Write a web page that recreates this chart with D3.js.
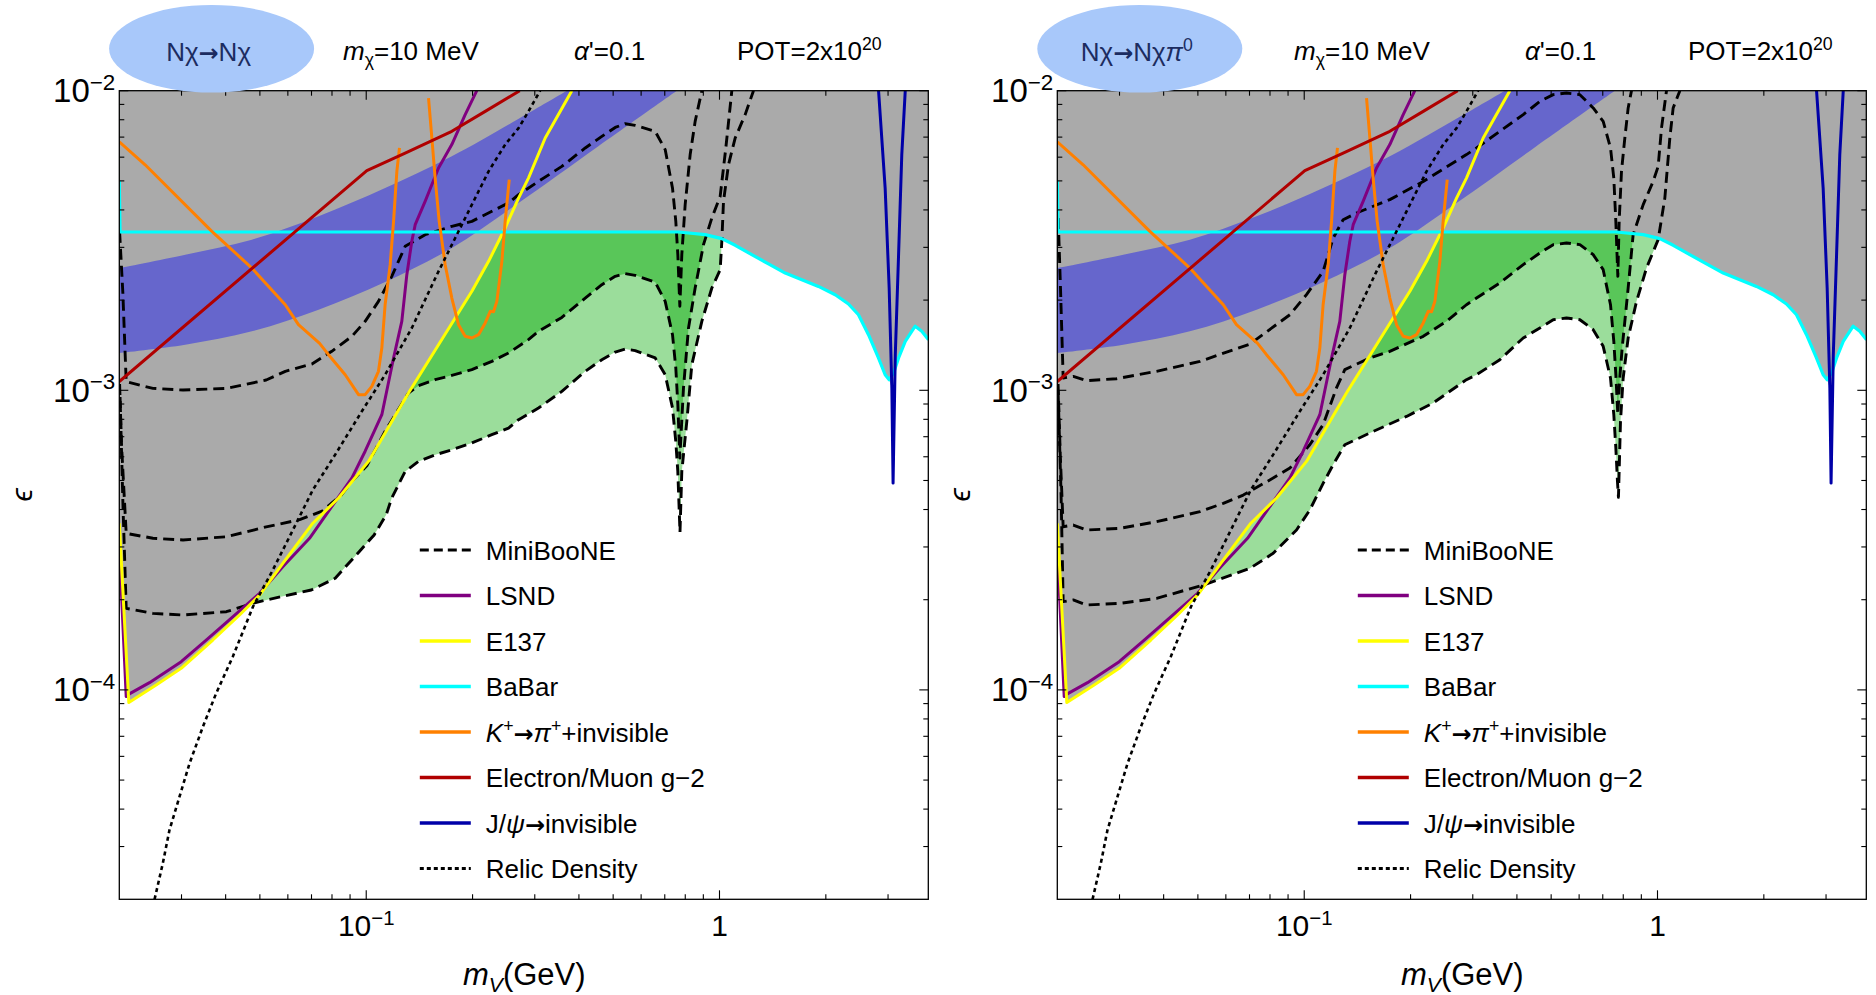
<!DOCTYPE html>
<html><head><meta charset="utf-8">
<script src="https://cdn.jsdelivr.net/npm/d3@7"></script>
<style>
body{margin:0;background:#fff}
svg{display:block}
text{font-family:"Liberation Sans",Arial,Helvetica,sans-serif}
</style>
</head><body>
<svg id="c" width="1876" height="995"></svg>
<script>
// ---------- axes ----------
const xDomain = [0.02, 3.9];
const yDomain = [2e-5, 1e-2];
const xMajor = [0.1, 1];
const xMajorLabels = [["10","−1"],["1",""]];
const xMinor = [0.03,0.04,0.05,0.06,0.07,0.08,0.09,0.2,0.3,0.4,0.5,0.6,0.7,0.8,0.9,2,3];
const yMajor = [1e-2, 1e-3, 1e-4];
const yMajorLabels = [["10","−2"],["10","−3"],["10","−4"]];
const yMinor = [3e-5,4e-5,5e-5,6e-5,7e-5,8e-5,9e-5,2e-4,3e-4,4e-4,5e-4,6e-4,7e-4,8e-4,9e-4,2e-3,3e-3,4e-3,5e-3,6e-3,7e-3,8e-3,9e-3];

// ---------- shared curves [m_V (GeV), epsilon] ----------
const lsnd = [[0.02,3.0e-4],[0.02092,9.5e-5],[0.02148,9.74e-5],[0.02435,1.057e-4],[0.02994,1.242e-4],[0.03524,1.467e-4],[0.0419,1.754e-4],[0.0499,2.10e-4],[0.05806,2.577e-4],[0.0691,3.206e-4],[0.0911,5.10e-4],[0.0993,6.26e-4],[0.1107,8.29e-4],[0.1195,1.282e-3],[0.1261,1.699e-3],[0.1303,2.432e-3],[0.1346,3.143e-3],[0.1376,3.571e-3],[0.1468,4.27e-3],[0.1602,5.52e-3],[0.1747,6.61e-3],[0.1906,8.32e-3],[0.2056,1e-2]];
const e137 = [[0.02,3.6e-4],[0.02128,9.07e-5],[0.02543,1.038e-4],[0.02994,1.18e-4],[0.0368,1.467e-4],[0.0438,1.778e-4],[0.0499,2.073e-4],[0.05806,2.645e-4],[0.0706,3.6e-4],[0.0835,4.37e-4],[0.1015,5.79e-4],[0.1317,9.79e-4],[0.1602,1.42e-3],[0.1991,2.14e-3],[0.222,2.694e-3],[0.2473,3.48e-3],[0.2699,4.38e-3],[0.2879,5.11e-3],[0.3211,6.95e-3],[0.382,1e-2]];
const babar = [[0.02,5.0e-3],[0.0201,3.376e-3],[0.766,3.376e-3],[0.911,3.307e-3],[1.015,3.207e-3],[1.108,3.048e-3],[1.234,2.837e-3],[1.376,2.642e-3],[1.535,2.462e-3],[1.71,2.339e-3],[1.906,2.222e-3],[2.126,2.084e-3],[2.318,1.941e-3],[2.474,1.787e-3],[2.641,1.533e-3],[2.818,1.282e-3],[2.944,1.127e-3],[3.022,1.085e-3],[3.11,1.142e-3],[3.213,1.282e-3],[3.356,1.457e-3],[3.58,1.637e-3],[3.737,1.574e-3],[3.905,1.476e-3]];
const kaonLow = [[0.02,6.75e-3],[0.02367,5.66e-3],[0.03656,3.393e-3],[0.04745,2.559e-3],[0.059,1.93e-3],[0.0643,1.656e-3],[0.0738,1.435e-3],[0.0782,1.315e-3],[0.0872,1.127e-3],[0.0951,9.67e-4],[0.0993,9.67e-4],[0.1037,1.031e-3],[0.1083,1.157e-3],[0.1107,1.384e-3],[0.1131,1.93e-3],[0.1169,2.626e-3],[0.1195,3.664e-3],[0.1221,5.38e-3],[0.1242,6.44e-3]];
const kaonHigh = [[0.1501,9.45e-3],[0.1534,6.95e-3],[0.1567,5.11e-3],[0.1609,3.664e-3],[0.1673,2.626e-3],[0.1747,2.032e-3],[0.1825,1.656e-3],[0.1906,1.514e-3],[0.1991,1.495e-3],[0.2079,1.533e-3],[0.2172,1.678e-3],[0.2244,1.835e-3],[0.2293,1.83e-3],[0.2343,1.981e-3],[0.2421,2.694e-3],[0.2473,3.664e-3],[0.254,5.05e-3]];
const gm2 = [[0.02,1.07e-3],[0.1004,5.41e-3],[0.1289,6.19e-3],[0.1747,7.32e-3],[0.2172,8.53e-3],[0.272,1e-2]];
const jpsi = [[2.82,1e-2],[2.944,4.73e-3],[3.022,2.195e-3],[3.075,1.018e-3],[3.1,4.9e-4],[3.145,1.315e-3],[3.213,2.837e-3],[3.281,6.11e-3],[3.356,1e-2]];
const relic = [[0.02517,2.0e-5],[0.02656,2.637e-5],[0.02774,3.407e-5],[0.02961,4.40e-5],[0.03162,5.69e-5],[0.0345,7.54e-5],[0.0376,9.74e-5],[0.0419,1.29e-4],[0.0478,1.895e-4],[0.0544,2.513e-4],[0.062,3.417e-4],[0.0706,4.65e-4],[0.0817,6.10e-4],[0.0972,8.51e-4],[0.1131,1.127e-3],[0.1346,1.614e-3],[0.1602,2.495e-3],[0.1786,3.223e-3],[0.1991,4.165e-3],[0.222,5.38e-3],[0.2474,6.61e-3],[0.2699,7.5e-3],[0.2879,8.53e-3],[0.3107,1e-2]];
const bandUpper = [[0.02,2.559e-3],[0.03074,2.836e-3],[0.04745,3.183e-3],[0.0733,3.808e-3],[0.1131,4.73e-3],[0.1747,6.04e-3],[0.2879,8.42e-3],[0.370,1e-2]];
const bandLower = [[0.02,1.332e-3],[0.03074,1.42e-3],[0.04745,1.573e-3],[0.0733,1.858e-3],[0.1131,2.298e-3],[0.1747,2.985e-3],[0.2699,4.22e-3],[0.452,6.5e-3],[0.757,1e-2]];

// ---------- MiniBooNE contours, N chi -> N chi ----------
const mbA_el = [[0.02004,3.38e-3],[0.02047,2.11e-3],[0.02092,1.068e-3],[0.0249,1.015e-3],[0.0303,1.002e-3],[0.0402,1.015e-3],[0.0521,1.082e-3],[0.059,1.157e-3],[0.0702,1.224e-3],[0.0799,1.349e-3],[0.0911,1.514e-3],[0.0993,1.699e-3],[0.1083,1.981e-3],[0.1181,2.401e-3],[0.1289,3.024e-3],[0.1468,3.308e-3],[0.1747,3.526e-3],[0.1991,3.664e-3],[0.2268,3.958e-3],[0.2528,4.22e-3],[0.2699,4.50e-3],[0.3074,4.98e-3],[0.3579,5.59e-3],[0.4168,6.44e-3],[0.4645,7.04e-3],[0.5068,7.54e-3],[0.5408,7.76e-3],[0.5771,7.66e-3],[0.6576,7.32e-3],[0.7019,6.36e-3],[0.7362,4.73e-3],[0.7522,3.66e-3],[0.7622,2.836e-3],[0.7722,1.907e-3],[0.7822,2.836e-3],[0.7995,4.165e-3],[0.826,6.12e-3],[0.8533,7.9e-3],[0.8913,1e-2]];
const mbB_el = [[0.02004,1.05e-3],[0.0203,6.5e-4],[0.02092,3.33e-4],[0.0249,3.207e-4],[0.0303,3.165e-4],[0.0402,3.245e-4],[0.0521,3.5e-4],[0.0648,3.7e-4],[0.075,3.95e-4],[0.085,4.47e-4],[0.0911,4.97e-4],[0.1004,5.6e-4],[0.1131,7.3e-4],[0.1317,9.79e-4],[0.1406,1.036e-3],[0.1567,1.085e-3],[0.1747,1.122e-3],[0.1991,1.172e-3],[0.2268,1.249e-3],[0.2528,1.332e-3],[0.2879,1.476e-3],[0.3074,1.573e-3],[0.3579,1.751e-3],[0.4168,2.032e-3],[0.4645,2.252e-3],[0.5068,2.401e-3],[0.5408,2.451e-3],[0.5771,2.419e-3],[0.6576,2.298e-3],[0.7019,1.981e-3],[0.7362,1.533e-3],[0.7522,1.187e-3],[0.7622,8.95e-4],[0.7722,5.94e-4],[0.7908,1.018e-3],[0.8171,1.614e-3],[0.8533,2.195e-3],[0.901,3.063e-3],[0.9513,3.76e-3],[1.0044,4.44e-3],[1.0421,6.44e-3],[1.0837,1e-2]];
const mbC_el = [[0.0201,9.5e-4],[0.0205,4.0e-4],[0.02092,1.872e-4],[0.0249,1.80e-4],[0.0303,1.778e-4],[0.0402,1.824e-4],[0.0478,1.945e-4],[0.0521,1.995e-4],[0.0699,2.155e-4],[0.0817,2.358e-4],[0.0955,2.893e-4],[0.1053,3.29e-4],[0.1139,3.84e-4],[0.1181,4.37e-4],[0.1289,5.36e-4],[0.1406,5.79e-4],[0.1568,6.09e-4],[0.1747,6.33e-4],[0.199,6.67e-4],[0.2267,7.11e-4],[0.2528,7.48e-4],[0.27,7.98e-4],[0.3074,8.73e-4],[0.3579,9.92e-4],[0.4169,1.157e-3],[0.4645,1.265e-3],[0.5068,1.342e-3],[0.5408,1.374e-3],[0.5771,1.356e-3],[0.6577,1.282e-3],[0.7019,1.128e-3],[0.7362,8.73e-4],[0.752,6.76e-4],[0.762,5.37e-4],[0.773,3.36e-4],[0.7822,5.36e-4],[0.8082,7.88e-4],[0.835,1.218e-3],[0.8913,1.699e-3],[0.9513,2.195e-3],[1.0044,2.527e-3],[1.0153,3.143e-3],[1.0264,4.27e-3],[1.0604,5.66e-3],[1.1075,6.95e-3],[1.1822,8.32e-3],[1.248,1e-2]];

// ---------- MiniBooNE contours, N chi -> N chi pi0 ----------
const mbA_pi = [[0.02012,3.76e-3],[0.02042,2.195e-3],[0.02078,1.099e-3],[0.02219,1.113e-3],[0.0242,1.077e-3],[0.02942,1.093e-3],[0.0382,1.157e-3],[0.0507,1.249e-3],[0.0702,1.427e-3],[0.0911,1.788e-3],[0.1015,2.086e-3],[0.1131,2.495e-3],[0.1208,3.223e-3],[0.1289,3.711e-3],[0.1406,3.906e-3],[0.1747,4.33e-3],[0.2172,4.98e-3],[0.2879,6.12e-3],[0.3074,6.44e-3],[0.3579,7.32e-3],[0.4168,8.32e-3],[0.4645,9.21e-3],[0.5068,9.70e-3],[0.5526,9.82e-3],[0.6029,9.70e-3],[0.6576,8.76e-3],[0.7019,7.9e-3],[0.7362,6.44e-3],[0.7522,5.11e-3],[0.7622,3.66e-3],[0.7722,2.401e-3],[0.7789,3.66e-3],[0.7908,5.38e-3],[0.8082,6.95e-3],[0.826,8.76e-3],[0.8441,1e-2]];
const mbB_pi = [[0.0201,1.05e-3],[0.0204,6.0e-4],[0.02078,3.505e-4],[0.02219,3.55e-4],[0.0242,3.417e-4],[0.03007,3.461e-4],[0.0382,3.642e-4],[0.0507,3.935e-4],[0.059,4.195e-4],[0.0672,4.47e-4],[0.0799,5.02e-4],[0.0911,5.5e-4],[0.1037,6.58e-4],[0.1131,7.68e-4],[0.1234,1.018e-3],[0.1303,1.172e-3],[0.1534,1.282e-3],[0.1747,1.349e-3],[0.2172,1.514e-3],[0.2528,1.699e-3],[0.2879,1.93e-3],[0.3074,2.032e-3],[0.3579,2.281e-3],[0.4168,2.626e-3],[0.4645,2.872e-3],[0.5068,3.063e-3],[0.5526,3.102e-3],[0.6029,3.063e-3],[0.6576,2.836e-3],[0.7019,2.527e-3],[0.7362,1.93e-3],[0.7522,1.457e-3],[0.7622,1.127e-3],[0.7722,8.29e-4],[0.7822,1.099e-3],[0.7943,1.384e-3],[0.826,2.195e-3],[0.8533,3.308e-3],[0.911,4.165e-3],[0.9721,4.98e-3],[1.0044,5.59e-3],[1.0264,7.5e-3],[1.0604,1e-2]];
const mbC_pi = [[0.0201,1.0e-3],[0.0205,4.5e-4],[0.02078,1.97e-4],[0.02219,1.996e-4],[0.0242,1.92e-4],[0.03007,1.945e-4],[0.0382,2.02e-4],[0.05176,2.239e-4],[0.0702,2.545e-4],[0.0817,2.857e-4],[0.0951,3.417e-4],[0.1037,3.985e-4],[0.1131,4.89e-4],[0.1208,5.65e-4],[0.1303,6.58e-4],[0.1567,7.29e-4],[0.1948,8.18e-4],[0.2317,9.07e-4],[0.2879,1.085e-3],[0.3074,1.127e-3],[0.3579,1.265e-3],[0.4168,1.495e-3],[0.4645,1.614e-3],[0.5068,1.72e-3],[0.5526,1.743e-3],[0.6029,1.72e-3],[0.6576,1.594e-3],[0.7019,1.402e-3],[0.7362,1.099e-3],[0.7522,8.29e-4],[0.7622,6.42e-4],[0.7703,4.97e-4],[0.7753,4.39e-4],[0.7857,7.88e-4],[0.7995,1.099e-3],[0.826,1.495e-3],[0.8723,1.981e-3],[0.9309,2.559e-3],[1.0044,3.183e-3],[1.049,4.38e-3],[1.0837,6.95e-3],[1.1075,8.76e-3],[1.157,1e-2]];

// ---------- legend / header text ----------
const legendLabels = [
  [{t:"MiniBooNE"}],
  [{t:"LSND"}],
  [{t:"E137"}],
  [{t:"BaBar"}],
  [{t:"K",i:1},{t:"+",sup:1},{t:"→",arr:1},{t:"π",i:1},{t:"+",sup:1},{t:"+invisible"}],
  [{t:"Electron/Muon g−2"}],
  [{t:"J/"},{t:"ψ",i:1},{t:"→",arr:1},{t:"invisible"}],
  [{t:"Relic Density"}]
];
const panelTitles = [
  [{t:"Nχ"},{t:"→",arr:1},{t:"Nχ"}],
  [{t:"Nχ"},{t:"→",arr:1},{t:"Nχ"},{t:"π",i:1},{t:"0",sup:1}]
];

// ---------- styles ----------
const C = {gray:"#aaaaaa", band:"#6666cc", dark:"#59c659", light:"#9bdd9b",
  cyan:"#00ffff", yellow:"#ffff00", purple:"#800080", orange:"#ff8000",
  red:"#b00000", navy:"#0000a8", ell:"#a8c8fa", ellText:"#1c2c60"};

const panels = [
  {left:119.3, A:mbA_el, B:mbB_el, Cc:mbC_el, title:panelTitles[0], ellCx:211.6, hdr:0},
  {left:1057.3, A:mbA_pi, B:mbB_pi, Cc:mbC_pi, title:panelTitles[1], ellCx:1139.8, hdr:951}
];
const plotW = 809, plotTop = 90.7, plotBot = 899.3;

const svg = d3.select("#c");
const defs = svg.append("defs");

function rich(textSel, segs, size){
  let shift = 0;
  segs.forEach(s=>{
    const ts = textSel.append("tspan").text(s.t);
    const target = s.sup ? -size*0.38 : (s.sub ? size*0.22 : 0);
    ts.attr("dy", (target-shift).toFixed(2));
    shift = target;
    if (s.sup||s.sub) ts.attr("font-size", (size*0.68).toFixed(1));
    if (s.i) ts.attr("font-style","italic");
    if (s.arr) ts.attr("font-family","'DejaVu Sans',sans-serif").attr("font-size",(size*0.92).toFixed(1)).attr("font-weight","bold");
  });
}

const eCross = 0.2441;

panels.forEach((p,pi)=>{
  const x = d3.scaleLog().domain(xDomain).range([p.left, p.left+plotW]);
  const y = d3.scaleLog().domain(yDomain).range([plotBot, plotTop]);
  const line = d3.line().x(d=>x(d[0])).y(d=>y(d[1]));
  const smooth = d3.line().x(d=>x(d[0])).y(d=>y(d[1])).curve(d3.curveCatmullRom.alpha(0.5));
  const clipId = "clip"+pi;
  defs.append("clipPath").attr("id",clipId).append("rect")
    .attr("x",p.left).attr("y",plotTop).attr("width",plotW).attr("height",plotBot-plotTop);
  const g = svg.append("g").attr("clip-path",`url(#${clipId})`);
  const topL = [xDomain[0], yDomain[1]], topR = [xDomain[1], yDomain[1]];

  // fills
  g.append("path").attr("d", line(p.Cc.concat([topL]))+"Z").attr("fill",C.light);
  g.append("path").attr("d", line(p.B.concat([topL]))+"Z").attr("fill",C.dark);
  const lower = babar.filter(d=>d[0]>0.3).concat(jpsi.filter(d=>d[1]<1.1e-3)).sort((a,b)=>a[0]-b[0]);
  const grayPts = [topL].concat(e137.filter(d=>d[0]<eCross), [[eCross,3.376e-3]], lower, [topR]);
  g.append("path").attr("d", line(grayPts)+"Z").attr("fill",C.gray);
  const up = smooth(bandUpper);
  const lo = smooth(bandLower.slice().reverse());
  g.append("path").attr("d", up + "L" + lo.slice(1) + "Z").attr("fill",C.band);

  // lines
  const draw = (pts,col,w,dash)=>{
    const pth = g.append("path").attr("d",line(pts)).attr("fill","none")
      .attr("stroke",col).attr("stroke-width",w).attr("stroke-linejoin","round");
    if (dash) pth.attr("stroke-dasharray",dash);
  };
  [p.A,p.B,p.Cc].forEach(c=>draw(c,"#000",2.9,"11,6"));
  draw(lsnd,C.purple,3);
  draw(e137,C.yellow,3);
  draw(babar,C.cyan,3.2);
  draw(kaonLow,C.orange,3);
  draw(kaonHigh,C.orange,3);
  draw(gm2,C.red,3);
  draw(jpsi,C.navy,3);
  draw(relic,"#000",2.6,"4,3.5");

  // frame
  svg.append("rect").attr("x",p.left).attr("y",plotTop).attr("width",plotW).attr("height",plotBot-plotTop)
    .attr("fill","none").attr("stroke","#000").attr("stroke-width",1.3);

  // ticks
  const tk = svg.append("g").attr("stroke","#000").attr("stroke-width",1.1);
  const xt = (v,len)=>{
    tk.append("line").attr("x1",x(v)).attr("x2",x(v)).attr("y1",plotBot).attr("y2",plotBot-len);
    tk.append("line").attr("x1",x(v)).attr("x2",x(v)).attr("y1",plotTop).attr("y2",plotTop+len);
  };
  const yt = (v,len)=>{
    tk.append("line").attr("y1",y(v)).attr("y2",y(v)).attr("x1",p.left).attr("x2",p.left+len);
    tk.append("line").attr("y1",y(v)).attr("y2",y(v)).attr("x1",p.left+plotW).attr("x2",p.left+plotW-len);
  };
  xMinor.forEach(v=>xt(v,5)); xMajor.forEach(v=>xt(v,9));
  yMinor.forEach(v=>yt(v,5)); yMajor.forEach(v=>yt(v,9));

  // tick labels
  xMajor.forEach((v,i)=>{
    const t = svg.append("text").attr("x",x(v)).attr("y",936).attr("text-anchor","middle").attr("font-size",30);
    const lab = xMajorLabels[i];
    rich(t, lab[1] ? [{t:lab[0]},{t:lab[1],sup:1}] : [{t:lab[0]}], 30);
  });
  yMajor.forEach((v,i)=>{
    const t = svg.append("text").attr("x",p.left-4).attr("y",y(v)+11.5).attr("text-anchor","end").attr("font-size",33);
    rich(t, [{t:yMajorLabels[i][0]},{t:yMajorLabels[i][1],sup:1}], 33);
  });

  // axis titles
  const xl = svg.append("text").attr("x",p.left+405).attr("y",985).attr("text-anchor","middle").attr("font-size",31);
  rich(xl, [{t:"m",i:1},{t:"V",i:1,sub:1},{t:"(GeV)"}], 31);
  svg.append("text").attr("transform",`translate(${p.left-87},495) rotate(-90)`)
    .attr("text-anchor","middle").attr("font-size",30).attr("font-style","italic").text("ϵ");

  // header
  svg.append("ellipse").attr("cx",p.ellCx).attr("cy",48.8).attr("rx",102.5).attr("ry",43.8).attr("fill",C.ell);
  const tt = svg.append("text").attr("x",p.ellCx-3).attr("y",61).attr("text-anchor","middle")
    .attr("font-size",26).attr("fill",C.ellText);
  rich(tt, p.title, 26);
  const h1 = svg.append("text").attr("x",343+p.hdr).attr("y",60).attr("font-size",26);
  rich(h1, [{t:"m",i:1},{t:"χ",sub:1},{t:"=10 MeV"}], 26);
  const h2 = svg.append("text").attr("x",574+p.hdr).attr("y",60).attr("font-size",26);
  rich(h2, [{t:"α",i:1},{t:"'=0.1"}], 26);
  const h3 = svg.append("text").attr("x",737+p.hdr).attr("y",60).attr("font-size",26);
  rich(h3, [{t:"POT=2x10"},{t:"20",sup:1}], 26);

  // legend
  const legStyles = [
    {c:"#000",d:"9,5",w:2.8},{c:C.purple,w:3.5},{c:C.yellow,w:3.5},{c:C.cyan,w:3.5},
    {c:C.orange,w:3.5},{c:C.red,w:3.5},{c:C.navy,w:3.5},{c:"#000",d:"4,3",w:2.8}
  ];
  legendLabels.forEach((lab,i)=>{
    const cy = 550 + i*45.5;
    const x0 = p.left + 300.5;
    const ln = svg.append("line").attr("x1",x0).attr("x2",x0+51).attr("y1",cy).attr("y2",cy)
      .attr("stroke",legStyles[i].c).attr("stroke-width",legStyles[i].w);
    if (legStyles[i].d) ln.attr("stroke-dasharray",legStyles[i].d);
    const t = svg.append("text").attr("x",x0+66).attr("y",cy+9.5).attr("font-size",26);
    rich(t, lab, 26);
  });
});
</script>
</body></html>
